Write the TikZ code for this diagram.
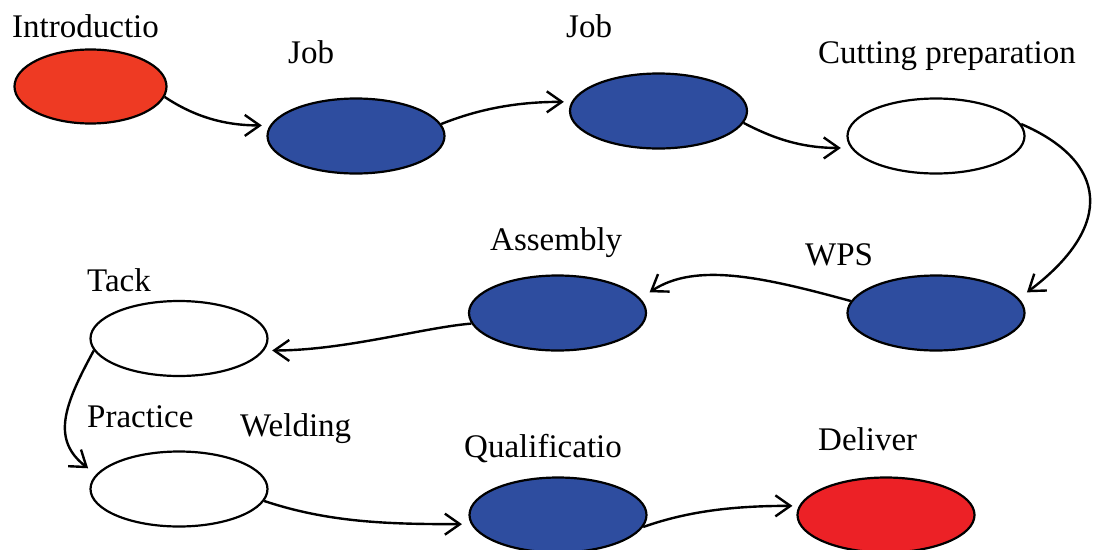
\documentclass[tikz,border=0pt]{standalone}
\usepackage{fontspec}
\setmainfont{Liberation Serif}
\usetikzlibrary{shapes.geometric,arrows.meta}
\definecolor{introred}{HTML}{EE3A23}
\definecolor{delred}{HTML}{EC2126}
\definecolor{jobblue}{HTML}{2E4D9F}
\begin{document}
\begin{tikzpicture}[x=1pt,y=1pt,
  stage/.style={ellipse, draw=black, line width=2.2pt, inner sep=0pt, minimum width=177pt, minimum height=75pt},
  lbl/.style={anchor=base west, inner sep=0pt, font=\fontsize{33}{40}\selectfont},
  flow/.style={line width=2.4pt, -{Straight Barb[length=15pt,width=21pt]}}
]
\useasboundingbox (0,0) rectangle (1094,-549);
\node[stage, fill=introred, minimum width=152pt, minimum height=74pt] (intro) at (90.5,-86.5) {};
\node[stage, fill=jobblue] (job1) at (356,-136) {};
\node[stage, fill=jobblue] (job2) at (658.5,-111) {};
\node[stage, fill=white] (cut) at (936,-136) {};
\node[stage, fill=jobblue] (wps) at (936,-313) {};
\node[stage, fill=jobblue] (ass) at (557.5,-313) {};
\node[stage, fill=white] (tack) at (179,-338.5) {};
\node[stage, fill=white] (prac) at (179,-489) {};
\node[stage, fill=jobblue] (qual) at (558,-515) {};
\node[stage, fill=delred] (deliv) at (886,-515) {};

\node[lbl] (tIntro) at (12,-37) {Introductio};
\node[lbl] (tJob1) at (288,-63) {Job};
\node[lbl] (tJob2) at (566,-37) {Job};
\node[lbl] (tCut) at (818,-63) {Cutting preparation};
\node[lbl] (tWps) at (805,-265) {WPS};
\node[lbl] (tAss) at (490,-250) {Assembly};
\node[lbl] (tTack) at (87,-291) {Tack};
\node[lbl] (tPrac) at (87,-427) {Practice};
\node[lbl] (tWeld) at (240,-436) {Welding};
\node[lbl] (tQual) at (464,-457) {Qualificatio};
\node[lbl] (tDeliv) at (818,-450) {Deliver};

\draw[flow, shorten >=8pt] (intro.-8) .. controls +(30,-20) and +(-45,0) .. (job1.173);
\draw[flow, shorten >=7.6pt] (job1.8) .. controls +(40,16) and +(-52,0) .. (job2.174);
\draw[flow, shorten >=10pt] (job2.-8) .. controls +(27,-14) and +(-52,0) .. (cut.188);
\draw[flow, shorten >=10pt] (cut.8) .. controls +(86,-37) and +(97,73) .. (wps.10);
\draw[flow, shorten >=11pt] (wps.172) .. controls +(-88,24) and +(55,36.5) .. (ass.10);
\draw[flow, shorten >=8pt] (ass.187) .. controls +(-48,-4) and +(80,0) .. (tack.-8);
\draw[flow, shorten >=10pt] (tack.188) .. controls +(-30,-55) and +(-45,34.6) .. (prac.170);
\draw[flow, shorten >=9pt] (prac.-8) .. controls +(66,-22) and +(-80,0) .. (qual.186);
\draw[flow, shorten >=6.5pt] (qual.-8) .. controls +(48,17) and +(-60,0) .. (deliv.174);
\end{tikzpicture}
\end{document}
